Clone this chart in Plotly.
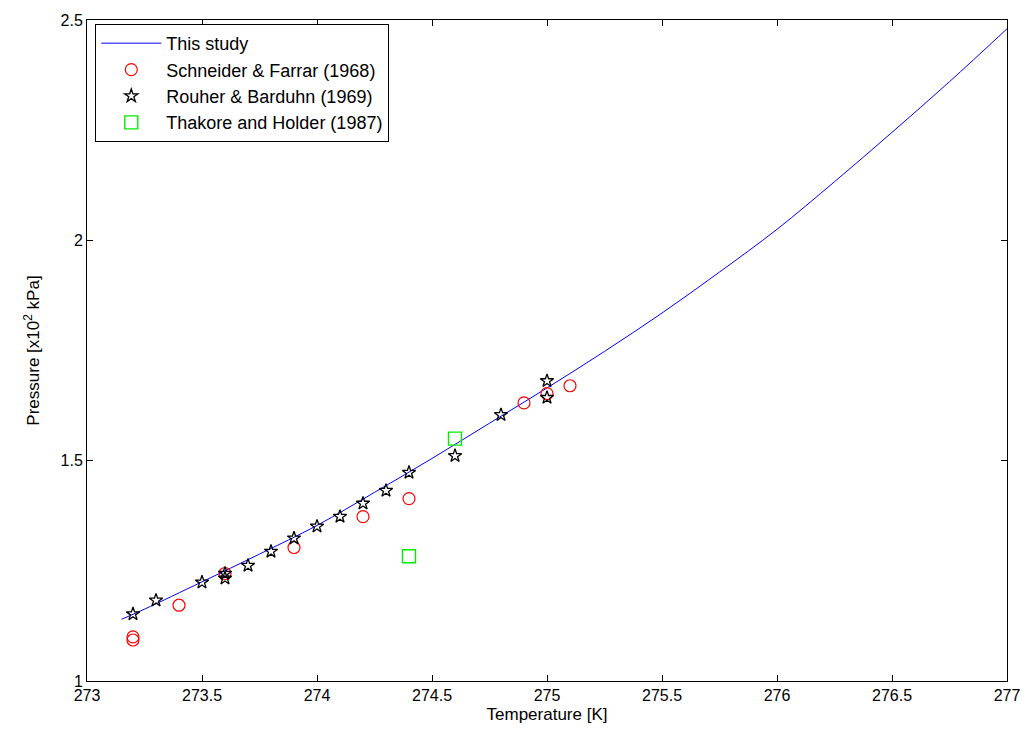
import plotly.graph_objects as go

# This study (model curve)
line_T = [273.15, 273.25, 273.5, 273.75, 274.0, 274.25, 274.5, 274.75, 275.0,
          275.25, 275.5, 275.75, 276.0, 276.25, 276.5, 276.75, 277.0]
line_P = [1.140, 1.163, 1.225, 1.288, 1.353, 1.428, 1.505, 1.585, 1.665,
          1.748, 1.835, 1.928, 2.025, 2.133, 2.245, 2.360, 2.480]

# Schneider & Farrar (1968)
sf_T = [273.2, 273.2, 273.4, 273.6, 273.9, 274.2, 274.4, 274.9, 275.0, 275.1]
sf_P = [1.10, 1.093, 1.172, 1.244, 1.303, 1.373, 1.414, 1.631, 1.652, 1.670]

# Rouher & Barduhn (1969)
rb_T = [273.2, 273.3, 273.5, 273.6, 273.6, 273.7, 273.8, 273.9, 274.0, 274.1,
        274.2, 274.3, 274.4, 274.6, 274.8, 275.0, 275.0]
rb_P = [1.152, 1.183, 1.224, 1.244, 1.233, 1.262, 1.294, 1.324, 1.351, 1.373,
        1.403, 1.432, 1.473, 1.511, 1.604, 1.643, 1.681]

# Thakore and Holder (1987)
th_T = [274.4, 274.6]
th_P = [1.283, 1.550]

x_ticks = [273, 273.5, 274, 274.5, 275, 275.5, 276, 276.5, 277]
x_labels = ["273", "273.5", "274", "274.5", "275", "275.5", "276", "276.5", "277"]
y_ticks = [1, 1.5, 2, 2.5]
y_labels = ["1", "1.5", "2", "2.5"]

fig = go.Figure()
fig.add_trace(go.Scatter(x=line_T, y=line_P, mode="lines", name="This study",
                         line=dict(color="#0000ff", width=1, shape="spline")))
fig.add_trace(go.Scatter(x=sf_T, y=sf_P, mode="markers", name="Schneider & Farrar (1968)",
                         marker=dict(symbol="circle-open", size=12, color="#ff0000",
                                     line=dict(width=1.2, color="#ff0000"))))
fig.add_trace(go.Scatter(x=rb_T, y=rb_P, mode="markers", name="Rouher & Barduhn (1969)",
                         marker=dict(symbol="star-open", size=10, color="#000000",
                                     line=dict(width=1.3, color="#000000"))))
fig.add_trace(go.Scatter(x=th_T, y=th_P, mode="markers", name="Thakore and Holder (1987)",
                         marker=dict(symbol="square-open", size=13, color="#00ee00",
                                     line=dict(width=1.4, color="#00ee00"))))

fig.update_layout(
    width=1032, height=733,
    margin=dict(l=87, r=20, t=18, b=52),
    paper_bgcolor="white", plot_bgcolor="white",
    font=dict(family="Liberation Sans, Arial, sans-serif", size=16, color="black"),
    showlegend=True,
    legend=dict(x=0.009, y=0.994, xanchor="left", yanchor="top",
                bgcolor="white", bordercolor="black", borderwidth=1,
                font=dict(size=18), tracegroupgap=0, itemwidth=60),
)
fig.update_xaxes(range=[273, 277], tickvals=x_ticks, ticktext=x_labels,
                 showgrid=False, zeroline=False, showline=True, linecolor="black",
                 linewidth=1, mirror="ticks", ticks="inside", ticklen=6,
                 tickcolor="black",
                 title=dict(text="Temperature [K]", font=dict(size=17), standoff=4))
fig.update_yaxes(range=[1, 2.5], tickvals=y_ticks, ticktext=y_labels,
                 showgrid=False, zeroline=False, showline=True, linecolor="black",
                 linewidth=1, mirror="ticks", ticks="inside", ticklen=6,
                 tickcolor="black",
                 title=dict(text="Pressure [x10<sup>2</sup> kPa]", font=dict(size=17), standoff=16))

fig.write_html("out.html")
